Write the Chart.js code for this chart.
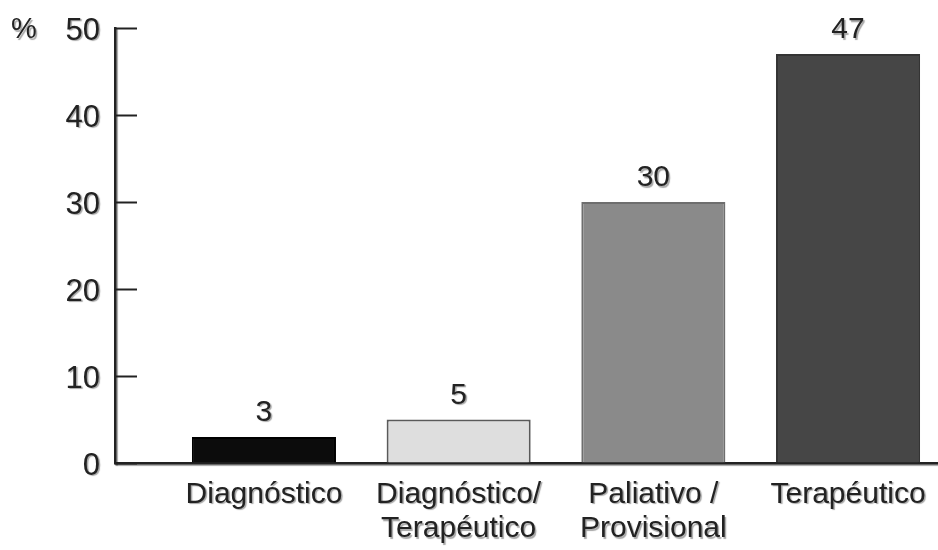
<!DOCTYPE html>
<html>
<head>
<meta charset="utf-8">
<script src="https://cdn.jsdelivr.net/npm/chart.js@4/dist/chart.umd.min.js"></script>
<style>
  html, body { margin: 0; padding: 0; background: #ffffff; }
  #wrap { width: 938px; height: 550px; }
</style>
</head>
<body>
<div id="wrap"><canvas id="c" width="938" height="550"></canvas></div>
<script>
// Categories (multi-line labels) and their percentages
const categories = [
  ['Diagnóstico'],
  ['Diagnóstico/', 'Terapéutico'],
  ['Paliativo /', 'Provisional'],
  ['Terapéutico']
];
const percentages = [3, 5, 30, 47];
const yTickValues = [0, 10, 20, 30, 40, 50];
const unitLabel = '%';

const FONT = "'Liberation Sans', Arial, Helvetica, sans-serif";
const INK = '#222222';

function setTextShadow(ctx) {
  ctx.shadowColor = 'rgba(0,0,0,0.35)';
  ctx.shadowOffsetX = 1.5;
  ctx.shadowOffsetY = 1.5;
  ctx.shadowBlur = 1;
}

// Soft print shadow behind axis text; bars are drawn without it
const printShadow = {
  id: 'printShadow',
  beforeDraw(chart) {
    chart.ctx.save();
    setTextShadow(chart.ctx);
  },
  beforeDatasetsDraw(chart) {
    chart.ctx.restore();
  }
};

// Inward tick marks on the value axis, value labels above bars and the unit label
const decorations = {
  id: 'decorations',
  afterDraw(chart) {
    const ctx = chart.ctx;
    const y = chart.scales.y;
    const area = chart.chartArea;
    ctx.save();
    ctx.strokeStyle = INK;
    ctx.lineWidth = 2;
    yTickValues.forEach(v => {
      const py = Math.round(y.getPixelForValue(v)) + 0.5;
      ctx.beginPath();
      ctx.moveTo(area.left, py);
      ctx.lineTo(area.left + 22, py);
      ctx.stroke();
    });
    setTextShadow(ctx);
    ctx.fillStyle = INK;
    ctx.font = '30px ' + FONT;
    ctx.textAlign = 'center';
    ctx.textBaseline = 'alphabetic';
    chart.getDatasetMeta(0).data.forEach((bar, i) => {
      ctx.fillText(String(percentages[i]), bar.x, bar.y - 16);
    });
    ctx.textAlign = 'left';
    ctx.textBaseline = 'middle';
    ctx.font = '29px ' + FONT;
    ctx.fillText(unitLabel, 11, 30);
    ctx.restore();
  }
};

new Chart(document.getElementById('c'), {
  type: 'bar',
  data: {
    datasets: [{
      data: percentages.map((v, i) => ({ x: i, y: v })),
      backgroundColor: ['#0c0c0c', '#dedede', '#8a8a8a', '#464646'],
      borderColor: ['#000000', '#5a5a5a', '#6e6e6e', '#343434'],
      borderWidth: 2,
      categoryPercentage: 1,
      barPercentage: 0.74
    }]
  },
  options: {
    responsive: false,
    animation: false,
    layout: { padding: { top: 28, right: 0, bottom: 0, left: 0 } },
    plugins: { legend: { display: false }, tooltip: { enabled: false } },
    scales: {
      x: {
        type: 'linear',
        offset: false,
        bounds: 'data',
        min: -0.765,
        max: 3.462,
        afterBuildTicks(scale) {
          scale.ticks = categories.map((_, i) => ({ value: i }));
        },
        afterFit(scale) {
          scale.height = 87;
          scale.paddingLeft = 0;
          scale.paddingRight = 0;
        },
        grid: { display: true, drawOnChartArea: false, drawTicks: false, offset: false },
        border: { display: true, color: INK, width: 2.5 },
        ticks: {
          autoSkip: false,
          maxRotation: 0,
          minRotation: 0,
          padding: 14,
          color: INK,
          font: { family: FONT, size: 30, lineHeight: 1.15 },
          callback: (value, index) => categories[index]
        }
      },
      y: {
        min: 0,
        max: 50,
        afterBuildTicks(scale) {
          scale.ticks = yTickValues.map(v => ({ value: v }));
        },
        afterFit(scale) {
          scale.width = 115;
          scale.paddingTop = 0;
          scale.paddingBottom = 0;
        },
        grid: { display: true, drawOnChartArea: false, drawTicks: false },
        border: { display: true, color: INK, width: 2.5 },
        ticks: {
          padding: 15,
          labelOffset: 3,
          color: INK,
          font: { family: FONT, size: 31 }
        }
      }
    }
  },
  plugins: [printShadow, decorations]
});
</script>
</body>
</html>
